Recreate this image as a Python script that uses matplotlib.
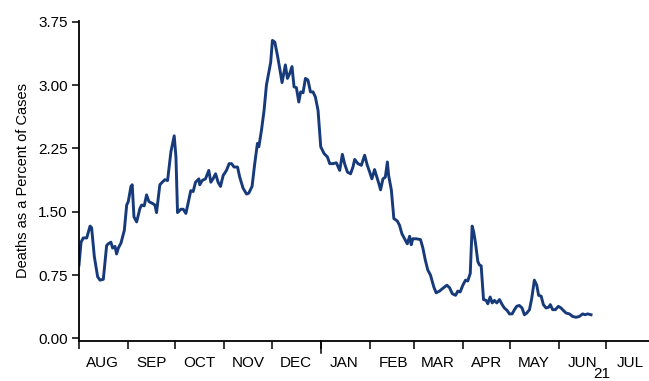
import matplotlib
matplotlib.use("Agg")
import matplotlib.pyplot as plt
import matplotlib.dates as mdates
import matplotlib.ticker as mticker
import pandas as pd

# days since 2020-08-01 and deaths as % of cases
days = [0, 1.3, 2.7, 4.9, 7.0, 8.0, 9.7, 11.8, 13.3, 15.4, 17.5, 18.5, 20.2, 21.3,
        22.8, 23.8, 24.9, 26.6, 28.7, 30.2, 31.2, 32.9, 33.7, 34.8, 36.5, 38.6,
        39.7, 41.3, 42.8, 44.3, 46.4, 48.1, 49.1, 51.2, 52.7, 54.4, 56.1, 58.2,
        60.3, 61.4, 62.4, 64.5, 66.0, 67.7, 69.1, 70.8, 72.3, 73.8, 75.9, 76.5,
        78.0, 80.1, 82.2, 83.5, 84.9, 86.5, 88.1, 89.6, 91.3, 93.4, 95.1, 96.6,
        98.2, 100.4, 101.8, 103.9, 106.1, 107.5, 109.6, 111.3, 113.0, 113.9,
        115.6, 117.2, 118.7, 119.7, 121.4, 122.5, 124.0, 125.7, 127.1, 128.6,
        130.7, 132.0, 133.5, 134.9, 136.2, 137.7, 139.2, 140.4, 141.9, 143.4,
        145.0, 146.6, 148.2, 149.7, 151.4, 153.1, 155.2, 157.3, 158.8, 160.8,
        163.0, 165.1, 166.8, 168.2, 170.0, 172.0, 173.5, 174.6, 176.7, 178.8,
        180.9, 182.6, 184.1, 185.5, 187.2, 188.7, 189.8, 191.0, 192.5, 194.0,
        195.3, 196.1, 197.8, 199.4, 201.6, 203.0, 204.5, 206.2, 207.9, 209.4,
        210.4, 211.4, 213.6, 216.3, 217.8, 219.3, 220.9, 222.6, 224.7, 226.2,
        228.3, 230.9, 233.0, 234.7, 236.4, 238.5, 239.9, 241.4, 243.1, 244.8,
        246.2, 247.8, 249.0, 250.0, 251.1, 252.6, 253.6, 254.7, 256.2, 257.9,
        258.9, 260.4, 261.7, 263.1, 264.6, 266.3, 268.0, 269.4, 271.2, 272.6,
        274.3, 275.8, 277.2, 278.9, 280.6, 282.1, 283.6, 285.3, 286.7, 288.4,
        289.9, 291.1, 292.7, 294.1, 295.8, 297.5, 298.5, 300.0, 301.7, 303.6,
        305.3, 306.8, 308.5, 310.6, 312.6, 314.8, 316.9, 319.0, 320.5, 322.1,
        324.3]
pct = [0.87, 1.14, 1.19, 1.19, 1.33, 1.31, 0.97, 0.73, 0.69, 0.70, 1.10, 1.12, 1.14, 1.07,
       1.09, 1.00, 1.07, 1.13, 1.28, 1.58, 1.62, 1.80, 1.82, 1.44, 1.38, 1.54,
       1.58, 1.57, 1.70, 1.62, 1.60, 1.58, 1.49, 1.82, 1.85, 1.88, 1.87, 2.21,
       2.40, 2.15, 1.49, 1.53, 1.53, 1.48, 1.60, 1.75, 1.74, 1.85, 1.89, 1.82,
       1.87, 1.89, 1.99, 1.85, 1.89, 1.95, 1.85, 1.80, 1.93, 1.99, 2.07, 2.07,
       2.03, 2.03, 1.91, 1.78, 1.71, 1.72, 1.80, 2.07, 2.31, 2.27,
       2.47, 2.70, 3.00, 3.10, 3.27, 3.53, 3.51, 3.35, 3.20, 3.03,
       3.24, 3.08, 3.14, 3.22, 2.98, 2.97, 2.80, 2.92, 2.91, 3.08,
       3.06, 2.92, 2.92, 2.86, 2.70, 2.27, 2.19, 2.15, 2.07, 2.07,
       2.08, 1.99, 2.18, 2.07, 1.97, 1.95, 2.03, 2.12, 2.07, 2.05,
       2.17, 2.05, 1.97, 1.89, 2.00, 1.91, 1.84, 1.76, 1.89, 1.91,
       2.09, 1.93, 1.76, 1.42, 1.39, 1.34, 1.24, 1.18, 1.12, 1.21,
       1.11, 1.18, 1.18, 1.17, 1.07, 0.93, 0.81, 0.75, 0.61, 0.54,
       0.56, 0.60, 0.63, 0.60, 0.53, 0.51, 0.56, 0.55, 0.63, 0.69,
       0.68, 0.77, 1.33, 1.26, 1.13, 0.91, 0.87, 0.86, 0.46, 0.45,
       0.41, 0.49, 0.42, 0.45, 0.42, 0.46, 0.40, 0.36, 0.33, 0.29,
       0.29, 0.34, 0.38, 0.39, 0.36, 0.28, 0.30, 0.34, 0.47, 0.69,
       0.63, 0.51, 0.50, 0.40, 0.36, 0.37, 0.40, 0.34, 0.34, 0.38,
       0.36, 0.33, 0.30, 0.29, 0.26, 0.25, 0.26, 0.29, 0.28, 0.29,
       0.28]

yticks = [0.00, 0.75, 1.50, 2.25, 3.00, 3.75]
start = pd.Timestamp("2020-08-01")
dates = start + pd.to_timedelta(days, unit="D")

plt.rcParams['font.family'] = ['Liberation Sans', 'DejaVu Sans']

fig = plt.figure(figsize=(6.49, 3.81), dpi=100)
ax = fig.add_axes([79 / 649, 40 / 381, 1 - 79 / 649, 320 / 381])

ax.plot(dates, pct, color='#173A7A', linewidth=2.1, solid_joinstyle='round')

ax.set_ylim(-0.031, 3.76)
ax.set_xlim(start, start + pd.Timedelta(days=361))
ax.set_yticks(yticks)
ax.yaxis.set_major_formatter(mticker.FormatStrFormatter('%.2f'))
ax.set_ylabel('Deaths as a Percent of Cases', fontsize=10.5, labelpad=6)

# month boundaries as ticks, month names centred in between
ax.xaxis.set_major_locator(mdates.MonthLocator())
ax.xaxis.set_major_formatter(mticker.NullFormatter())
ax.xaxis.set_minor_locator(mdates.MonthLocator(bymonthday=16))
ax.xaxis.set_minor_formatter(mticker.FuncFormatter(
    lambda v, p: mdates.num2date(v).strftime('%b').upper()))
ax.tick_params(axis='x', which='major', length=6, width=1.1, direction='out')
ax.tick_params(axis='x', which='minor', length=0, pad=11, labelsize=11)
ax.tick_params(axis='y', length=5, width=1.1, pad=3, labelsize=11)

# longer tick at the year break
jan = pd.Timestamp("2021-01-01")
ax.plot([jan, jan], [0, -0.037], transform=ax.get_xaxis_transform(),
        color='black', linewidth=1.1, clip_on=False)
ax.text(pd.Timestamp("2021-06-28"), -0.104, '21', transform=ax.get_xaxis_transform(),
        ha='center', va='center', fontsize=11)

for s in ['top', 'right']:
    ax.spines[s].set_visible(False)
for s in ['left', 'bottom']:
    ax.spines[s].set_linewidth(1.3)

fig.savefig('out.png', dpi=100)
